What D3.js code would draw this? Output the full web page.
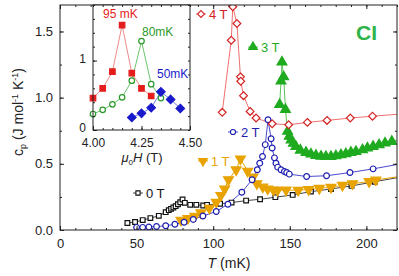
<!DOCTYPE html>
<html>
<head>
<meta charset="utf-8">
<script src="https://cdn.jsdelivr.net/npm/d3@7"></script>
<style>
  body { margin: 0; background: #fff; }
  text { font-family: "Liberation Sans", Arial, sans-serif; }
</style>
</head>
<body>
<script>
// main plot data: [T (mK), cp]
const field0T = [[44,0.053],[49,0.06],[54,0.075],[59,0.09],[64.5,0.107],[69,0.135],[71,0.15],[72.5,0.16],[74,0.17],[75.5,0.18],[77,0.195],[78.5,0.21],[80,0.23],[81.5,0.205],[85,0.19],[89,0.19],[93.5,0.185],[96,0.19],[104.5,0.198],[112,0.207],[121.5,0.222],[130.6,0.232],[140.6,0.248],[151.9,0.265],[163.8,0.29],[176.9,0.31],[190.3,0.333],[205.5,0.365],[225,0.405]];
const field1T = [[79,0.075],[83.5,0.088],[88,0.105],[92,0.13],[97.5,0.165],[102,0.21],[105,0.262],[107.5,0.31],[110,0.38],[115,0.455],[117.8,0.537],[122.5,0.445],[126,0.4],[128.5,0.35],[132.4,0.325],[135.6,0.31],[139.3,0.303],[142,0.3],[147.6,0.302],[155.5,0.3],[162.3,0.306],[169.3,0.315],[176.9,0.323],[184.4,0.338],[191,0.35],[201.8,0.366],[206.2,0.378],[225,0.41]];
const field2T = [[50,0.02],[54,0.02],[58,0.022],[63,0.026],[69,0.032],[75,0.043],[81,0.058],[87,0.08],[93.3,0.106],[102,0.14],[109.6,0.195],[118.7,0.285],[125.4,0.38],[128.8,0.455],[130.4,0.505],[132.2,0.555],[134,0.645],[135.8,0.833],[137.8,0.69],[138.5,0.62],[140,0.545],[141,0.505],[142.1,0.475],[144.3,0.455],[146.5,0.442],[148,0.434],[149.7,0.422],[161,0.404],[174,0.41],[189.3,0.434],[204.4,0.462],[225,0.505]];
const field3T = [[143.4,0.947],[144.3,1.125],[144.9,1.268],[146,1.157],[147.2,0.91],[148.6,0.745],[149.7,0.707],[150.9,0.68],[152.4,0.655],[154,0.63],[156.9,0.603],[160.6,0.586],[163.8,0.573],[167.1,0.563],[170.4,0.556],[173.6,0.554],[176.9,0.555],[180.1,0.56],[183.4,0.568],[186.6,0.576],[189.9,0.586],[193.2,0.593],[197.5,0.606],[200.7,0.619],[204.4,0.631],[208.3,0.644],[212.2,0.657],[216.6,0.669],[225,0.69]];
const field4T = [[105.9,0.889],[111.8,1.434],[112.8,1.687],[115.5,1.56],[117.8,1.157],[118,1.124],[119.8,1.015],[124.1,0.896],[128,0.846],[138.5,0.803],[149.3,0.795],[161.5,0.813],[174.3,0.828],[189.5,0.846],[204,0.86],[225,0.878]];

// inset data: [mu0H (T), cp]
const inset95mK = [[4.00,0.46],[4.05,0.6],[4.10,0.84],[4.15,1.51],[4.20,0.82],[4.25,0.6],[4.30,0.49]];
const inset80mK = [[4.00,0.23],[4.05,0.29],[4.10,0.37],[4.15,0.47],[4.20,0.71],[4.25,1.28],[4.30,0.66],[4.35,0.46]];
const inset50mK = [[4.20,0.18],[4.25,0.24],[4.30,0.32],[4.35,0.55],[4.40,0.44],[4.45,0.31]];

const xTicks = [0, 50, 100, 150, 200];
const yTicks = [0, 0.5, 1.0, 1.5];
const insetXTicks = [4.00, 4.25, 4.50];
const insetYTicks = [0, 1];

const width = 399, height = 276;
const svg = d3.select("body").append("svg")
  .attr("width", width).attr("height", height);

const x = d3.scaleLinear().domain([0, 220]).range([60, 397]);
const y = d3.scaleLinear().domain([0, 1.7]).range([230, 5]);

const diamond = { draw(ctx, size) { const r = Math.sqrt(size / 2); ctx.moveTo(0,-r); ctx.lineTo(r,0); ctx.lineTo(0,r); ctx.lineTo(-r,0); ctx.closePath(); } };
const triDown = { draw(ctx, size) { const s = Math.sqrt(size * 4 / Math.sqrt(3)); const h = s * Math.sqrt(3) / 2; ctx.moveTo(-s/2,-h/3); ctx.lineTo(s/2,-h/3); ctx.lineTo(0,2*h/3); ctx.closePath(); } };
const triUp = { draw(ctx, size) { const s = Math.sqrt(size * 4 / Math.sqrt(3)); const h = s * Math.sqrt(3) / 2; ctx.moveTo(-s/2,h/3); ctx.lineTo(s/2,h/3); ctx.lineTo(0,-2*h/3); ctx.closePath(); } };

const series = [
  { data: field0T, label: "0 T", color: "#111", line: "#444", type: d3.symbolSquare, size: 22, fill: "#fff", lx: 138, ly: 193 },
  { data: field1T, label: "1 T", color: "#e8a300", line: "#e8a300", type: triDown, size: 42, fill: "#e8a300", lx: 203, ly: 161 },
  { data: field2T, label: "2 T", color: "#1c1cb0", line: "#4a4ad0", type: d3.symbolCircle, size: 26, fill: "#fff", lx: 233, ly: 132 },
  { data: field3T, label: "3 T", color: "#1faa1f", line: "#5cc45c", type: triUp, size: 42, fill: "#1faa1f", lx: 253, ly: 47 },
  { data: field4T, label: "4 T", color: "#d42222", line: "#ee7070", type: diamond, size: 30, fill: "#fff", lx: 201, ly: 14 }
];

// clip
svg.append("clipPath").attr("id", "clip").append("rect")
  .attr("x", 60).attr("y", 5).attr("width", 337).attr("height", 225);

const plot = svg.append("g").attr("clip-path", "url(#clip)");
const line = d3.line().x(d => x(d[0])).y(d => y(d[1]));

series.forEach(s => {
  plot.append("path").datum(s.data)
    .attr("d", line).attr("fill", "none")
    .attr("stroke", s.line).attr("stroke-width", 1);
});
series.forEach(s => {
  plot.append("g").selectAll("path")
    .data(s.data).enter().append("path")
    .attr("transform", d => "translate(" + x(d[0]) + "," + y(d[1]) + ")")
    .attr("d", d3.symbol().type(s.type).size(s.size))
    .attr("fill", s.fill).attr("stroke", s.color).attr("stroke-width", 1.2);
});

// legend labels
series.forEach(s => {
  svg.append("line").attr("x1", s.lx - 5).attr("x2", s.lx + 5)
    .attr("y1", s.ly).attr("y2", s.ly).attr("stroke", s.line);
  svg.append("path").attr("transform", "translate(" + s.lx + "," + s.ly + ")")
    .attr("d", d3.symbol().type(s.type).size(s.size * 0.8))
    .attr("fill", s.fill).attr("stroke", s.color).attr("stroke-width", 1.1);
  svg.append("text").attr("x", s.lx + 8).attr("y", s.ly + 5)
    .attr("font-size", 13).attr("fill", s.color).text(s.label);
});

// axes
function styleAxis(g) {
  g.select(".domain").remove();
  g.selectAll("line").attr("stroke", "#222");
  g.selectAll("text").attr("font-size", 13).attr("fill", "#222")
    .style("font-family", "Liberation Sans, Arial, sans-serif");
}
const minorX = d3.range(0, 221, 10), minorY = d3.range(0, 1.71, 0.25);
svg.append("g").attr("transform", "translate(0,230)")
  .call(d3.axisBottom(x).tickValues(minorX).tickSize(-2).tickFormat("")).call(styleAxis);
svg.append("g").attr("transform", "translate(0,230)")
  .call(d3.axisBottom(x).tickValues(xTicks).tickSize(-4).tickPadding(9).tickFormat(d3.format("d"))).call(styleAxis);
svg.append("g").attr("transform", "translate(0,5)")
  .call(d3.axisTop(x).tickValues(minorX).tickSize(-2).tickFormat("")).call(styleAxis);
svg.append("g").attr("transform", "translate(0,5)")
  .call(d3.axisTop(x).tickValues(xTicks).tickSize(-4).tickFormat("")).call(styleAxis);
svg.append("g").attr("transform", "translate(60,0)")
  .call(d3.axisLeft(y).tickValues(minorY).tickSize(-2).tickFormat("")).call(styleAxis);
svg.append("g").attr("transform", "translate(60,0)")
  .call(d3.axisLeft(y).tickValues(yTicks).tickSize(-4).tickPadding(7).tickFormat(d3.format(".1f"))).call(styleAxis);
svg.append("g").attr("transform", "translate(397,0)")
  .call(d3.axisRight(y).tickValues(minorY).tickSize(-2).tickFormat("")).call(styleAxis);
svg.append("g").attr("transform", "translate(397,0)")
  .call(d3.axisRight(y).tickValues(yTicks).tickSize(-4).tickFormat("")).call(styleAxis);

svg.append("rect").attr("x", 60).attr("y", 5).attr("width", 337).attr("height", 225)
  .attr("fill", "none").attr("stroke", "#222").attr("stroke-width", 1);

// axis titles
svg.append("text").attr("x", 229).attr("y", 268).attr("text-anchor", "middle")
  .attr("font-size", 14).attr("fill", "#222")
  .call(t => { t.append("tspan").attr("font-style", "italic").text("T"); t.append("tspan").text(" (mK)"); });

const yl = svg.append("text").attr("transform", "translate(23,112) rotate(-90)")
  .attr("text-anchor", "middle").attr("font-size", 14).attr("fill", "#222");
yl.append("tspan").text("c");
yl.append("tspan").attr("font-size", 9).attr("dy", 3).text("p");
yl.append("tspan").attr("dy", -3).text(" (J mol");
yl.append("tspan").attr("font-size", 9).attr("dy", -5).text("-1");
yl.append("tspan").attr("dy", 5).text(" K");
yl.append("tspan").attr("font-size", 9).attr("dy", -5).text("-1");
yl.append("tspan").attr("dy", 5).text(")");

svg.append("text").attr("x", 356).attr("y", 40).attr("font-size", 21)
  .attr("font-weight", "bold").attr("fill", "#2db34a").text("CI");

// inset
const ix = d3.scaleLinear().domain([4.0, 4.5]).range([93, 190]);
const iy = d3.scaleLinear().domain([0, 1.8]).range([130, 5]);
svg.append("rect").attr("x", 93).attr("y", 5).attr("width", 97).attr("height", 125)
  .attr("fill", "#fff").attr("stroke", "none");

const insetSeries = [
  { data: inset95mK, color: "#e41c1c", line: "#f08a8a", type: d3.symbolSquare, size: 30, fill: "#e41c1c", label: "95 mK", tx: 103, ty: 18 },
  { data: inset80mK, color: "#2a9a2a", line: "#6cc46c", type: d3.symbolCircle, size: 24, fill: "#fff", label: "80mK", tx: 142, ty: 36 },
  { data: inset50mK, color: "#1a1acc", line: "#7080e8", type: diamond, size: 36, fill: "#1a1acc", label: "50mK", tx: 157, ty: 78 }
];
const iline = d3.line().x(d => ix(d[0])).y(d => iy(d[1]));
insetSeries.forEach(s => {
  svg.append("path").datum(s.data).attr("d", iline).attr("fill", "none")
    .attr("stroke", s.line).attr("stroke-width", 1);
});
insetSeries.forEach(s => {
  svg.append("g").selectAll("path").data(s.data).enter().append("path")
    .attr("transform", d => "translate(" + ix(d[0]) + "," + iy(d[1]) + ")")
    .attr("d", d3.symbol().type(s.type).size(s.size))
    .attr("fill", s.fill).attr("stroke", s.color).attr("stroke-width", 1.2);
  svg.append("text").attr("x", s.tx).attr("y", s.ty).attr("font-size", 12)
    .attr("fill", s.color).text(s.label);
});

const iMinorX = d3.range(4.0, 4.501, 0.05), iMinorY = d3.range(0, 1.81, 0.2);
function insetAxis(g) { styleAxis(g); g.selectAll("text").attr("font-size", 12); }
svg.append("g").attr("transform", "translate(0,130)")
  .call(d3.axisBottom(ix).tickValues(iMinorX).tickSize(-2).tickFormat("")).call(insetAxis);
svg.append("g").attr("transform", "translate(0,130)")
  .call(d3.axisBottom(ix).tickValues(insetXTicks).tickSize(-4).tickPadding(8).tickFormat(d3.format(".2f"))).call(insetAxis);
svg.append("g").attr("transform", "translate(0,5)")
  .call(d3.axisTop(ix).tickValues(iMinorX).tickSize(-2).tickFormat("")).call(insetAxis);
svg.append("g").attr("transform", "translate(93,0)")
  .call(d3.axisLeft(iy).tickValues(iMinorY).tickSize(-2).tickFormat("")).call(insetAxis);
svg.append("g").attr("transform", "translate(93,0)")
  .call(d3.axisLeft(iy).tickValues(insetYTicks).tickSize(-4).tickPadding(7).tickFormat(d3.format("d")))
  .call(insetAxis)
  .call(g => g.selectAll("text").attr("y", -2));
svg.append("g").attr("transform", "translate(190,0)")
  .call(d3.axisRight(iy).tickValues(iMinorY).tickSize(-2).tickFormat("")).call(insetAxis);
svg.append("rect").attr("x", 93).attr("y", 5).attr("width", 97).attr("height", 125)
  .attr("fill", "none").attr("stroke", "#222").attr("stroke-width", 1);

const il = svg.append("text").attr("x", 142).attr("y", 162).attr("text-anchor", "middle")
  .attr("font-size", 13).attr("fill", "#222");
il.append("tspan").attr("font-style", "italic").text("μ");
il.append("tspan").attr("font-size", 8).attr("dy", 3).text("0");
il.append("tspan").attr("font-style", "italic").attr("dy", -3).text("H");
il.append("tspan").text(" (T)");
</script>
</body>
</html>
